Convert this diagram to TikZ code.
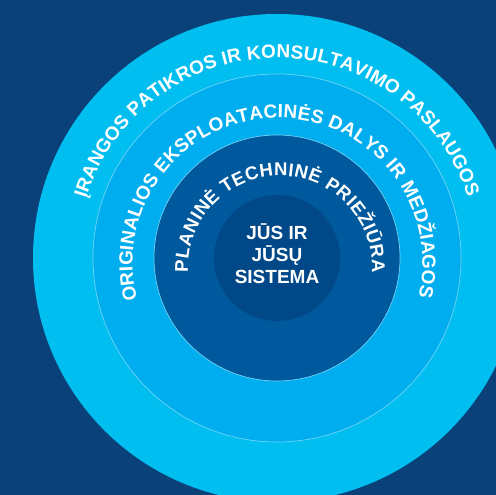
\documentclass[tikz,border=0pt]{standalone}
\usepackage{fontspec}
\setmainfont{Liberation Sans}
\usepackage{tikz}
\usetikzlibrary{decorations.text}

\definecolor{navybg}{HTML}{0A4179}
\definecolor{servicecyan}{HTML}{00BFF0}
\definecolor{partsblue}{HTML}{00AEEF}
\definecolor{maintblue}{HTML}{00599D}
\definecolor{coreblue}{HTML}{004887}
\definecolor{ringedge}{HTML}{6FD3F5}

\begin{document}
\begin{tikzpicture}[
    x=1pt, y=1pt,
    ring/.style={circle, inner sep=0pt, minimum size=#1},
    ringline/.style={draw=ringedge, line width=0.7pt},
    arctext/.style={decorate, decoration={text along path, text align=fit to path}}
  ]

  % ==================== CANVAS ====================
  \useasboundingbox (0,0) rectangle (496,495);
  \fill[navybg] (0,0) rectangle (496,495);
  \clip (0,0) rectangle (496,495);

  \coordinate (Hub) at (277,237);
  % text arcs sit a little lower than the rings
  \coordinate (PartsArc) at (277.5,232);
  \coordinate (MaintArc) at (280,227);

  % ==================== RINGS ====================
  \node (Service) [ring=488, fill=servicecyan] at (Hub) {};
  \node (Parts) [ring=368, fill=partsblue, ringline] at (Hub) {};
  \node (Maintenance) [ring=246, fill=maintblue, ringline] at (Hub) {};
  \node (Core) [ring=126, fill=coreblue] at (Hub) {};

  % ==================== LABELS ====================
  \node (System) [align=center, text=white, font=\bfseries\fontsize{19}{22}\selectfont]
    at ([yshift=4pt]Hub) {JŪS IR\\JŪSŲ\\SISTEMA};

  \path[arctext, decoration={text={|\color{white}\bfseries\fontsize{19}{19}\selectfont|ĮRANGOS PATIKROS IR KONSULTAVIMO PASLAUGOS}}]
    (Hub) ++(162.7:200) arc[start angle=162.7, end angle=17.6, radius=200];

  \path[arctext, decoration={text={|\color{white}\bfseries\fontsize{19}{19}\selectfont|ORIGINALIOS EKSPLOATACINĖS DALYS IR MEDŽIAGOS}}]
    (PartsArc) ++(194.7:145) arc[start angle=194.7, end angle=-13.6, radius=145];

  \path[arctext, decoration={text={|\color{white}\bfseries\fontsize{18.5}{18.5}\selectfont|PLANINĖ TECHNINĖ PRIEŽIŪRA}}]
    (MaintArc) ++(182.5:92) arc[start angle=182.5, end angle=-3.1, radius=92];

\end{tikzpicture}
\end{document}
